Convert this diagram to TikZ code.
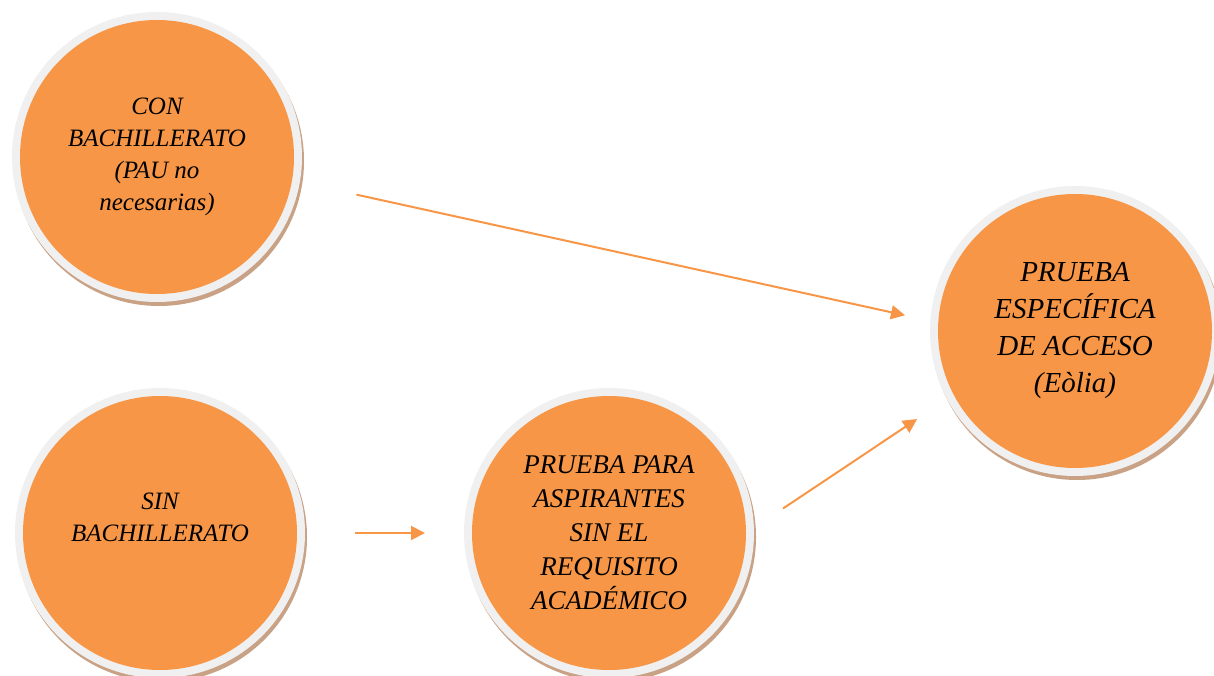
\documentclass[tikz,border=0pt]{standalone}
\usepackage{fontspec}
\setmainfont{Liberation Serif}
\usetikzlibrary{arrows.meta,shadows}
\definecolor{naranja}{HTML}{F79646}
\definecolor{anillo}{HTML}{F0F0F0}
\definecolor{sombra}{HTML}{C9A184}
\begin{document}
\begin{tikzpicture}[x=1pt,y=1pt,
	bola/.style={circle,minimum size=290pt,inner sep=0pt,outer sep=0pt,fill=anillo,
		drop shadow={shadow xshift=2pt,shadow yshift=-4pt,fill=sombra,opacity=1},
		path picture={\fill[naranja] (path picture bounding box.center) circle (137pt);},
		align=center,font=\fontsize{25}{32}\selectfont\itshape},
	flecha/.style={naranja,line width=2pt,-{Triangle[length=14pt,width=14pt]}}]
	\useasboundingbox (0,0) rectangle (1214,675);
	
	\node[bola] (con) at (157,518) {CON\\BACHILLERATO\\(PAU no\\necesarias)};
	\node[bola] (sin) at (160,142) {SIN\\BACHILLERATO\\\mbox{}};
	\node[bola,font=\fontsize{27}{34}\selectfont\itshape] (ppa) at (609,142) {PRUEBA PARA\\ASPIRANTES\\SIN EL\\REQUISITO\\ACADÉMICO};
	\node[bola,font=\fontsize{29}{37}\selectfont\itshape] (esp) at (1075,344) {PRUEBA\\ESPECÍFICA\\DE ACCESO\\(Eòlia)};
	
	\draw[flecha,shorten <=58pt,shorten >=26pt] (con.-10) -- (esp.176);
	\draw[flecha,shorten <=50pt,shorten >=39pt] (sin.0) -- (ppa.180);
	\draw[flecha,shorten <=35pt,shorten >=36pt] (ppa.2) -- (esp.208);
\end{tikzpicture}
\end{document}
